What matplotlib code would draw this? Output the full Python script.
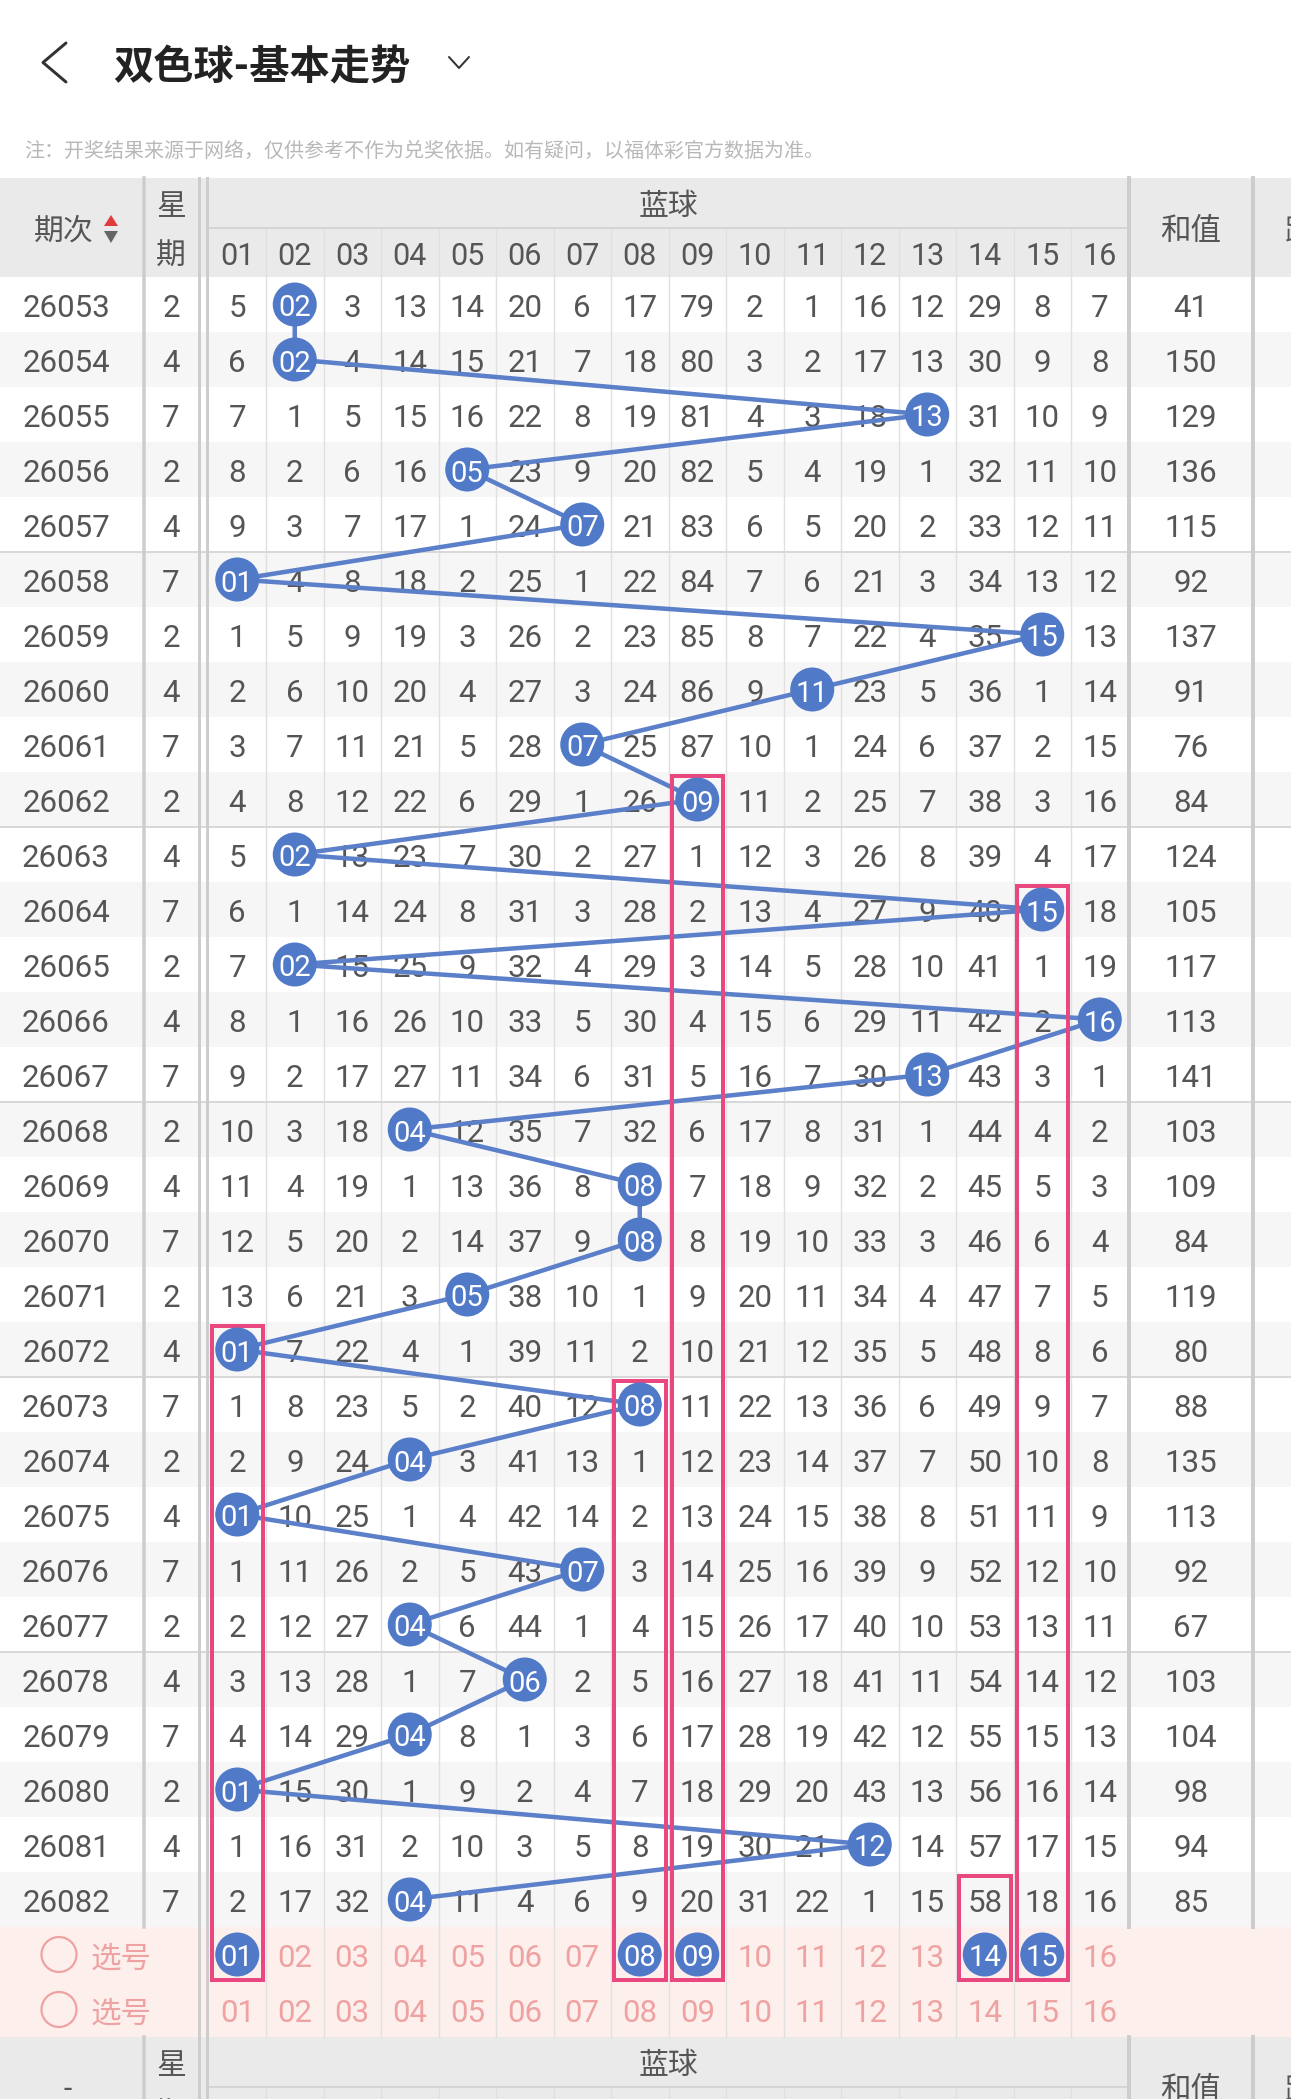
import matplotlib
matplotlib.use("Agg")
import matplotlib.pyplot as plt
from matplotlib.patches import Rectangle, Circle, Polygon

plt.rcParams['font.family'] = ['Roboto', 'Noto Sans CJK SC', 'DejaVu Sans']

# ---- data ----
issues = ['26053', '26054', '26055', '26056', '26057', '26058', '26059', '26060',
          '26061', '26062', '26063', '26064', '26065', '26066', '26067', '26068',
          '26069', '26070', '26071', '26072', '26073', '26074', '26075', '26076',
          '26077', '26078', '26079', '26080', '26081', '26082']
weekday = [2, 4, 7, 2, 4, 7, 2, 4, 7, 2, 4, 7, 2, 4, 7, 2, 4, 7, 2, 4, 7, 2, 4, 7,
           2, 4, 7, 2, 4, 7]
sums = [41, 150, 129, 136, 115, 92, 137, 91, 76, 84, 124, 105, 117, 113, 141, 103,
        109, 84, 119, 80, 88, 135, 113, 92, 67, 103, 104, 98, 94, 85]
blue_cols = ['01', '02', '03', '04', '05', '06', '07', '08', '09', '10', '11', '12',
             '13', '14', '15', '16']
# drawn blue number of each issue
hit = [2, 2, 13, 5, 7, 1, 15, 11, 7, 9, 2, 15, 2, 16, 13, 4, 8, 8, 5, 1, 8, 4, 1, 7,
       4, 6, 4, 1, 12, 4]
# omission counts (0 = the drawn ball)
miss = [
    [5, 0, 3, 13, 14, 20, 6, 17, 79, 2, 1, 16, 12, 29, 8, 7],
    [6, 0, 4, 14, 15, 21, 7, 18, 80, 3, 2, 17, 13, 30, 9, 8],
    [7, 1, 5, 15, 16, 22, 8, 19, 81, 4, 3, 18, 0, 31, 10, 9],
    [8, 2, 6, 16, 0, 23, 9, 20, 82, 5, 4, 19, 1, 32, 11, 10],
    [9, 3, 7, 17, 1, 24, 0, 21, 83, 6, 5, 20, 2, 33, 12, 11],
    [0, 4, 8, 18, 2, 25, 1, 22, 84, 7, 6, 21, 3, 34, 13, 12],
    [1, 5, 9, 19, 3, 26, 2, 23, 85, 8, 7, 22, 4, 35, 0, 13],
    [2, 6, 10, 20, 4, 27, 3, 24, 86, 9, 0, 23, 5, 36, 1, 14],
    [3, 7, 11, 21, 5, 28, 0, 25, 87, 10, 1, 24, 6, 37, 2, 15],
    [4, 8, 12, 22, 6, 29, 1, 26, 0, 11, 2, 25, 7, 38, 3, 16],
    [5, 0, 13, 23, 7, 30, 2, 27, 1, 12, 3, 26, 8, 39, 4, 17],
    [6, 1, 14, 24, 8, 31, 3, 28, 2, 13, 4, 27, 9, 40, 0, 18],
    [7, 0, 15, 25, 9, 32, 4, 29, 3, 14, 5, 28, 10, 41, 1, 19],
    [8, 1, 16, 26, 10, 33, 5, 30, 4, 15, 6, 29, 11, 42, 2, 0],
    [9, 2, 17, 27, 11, 34, 6, 31, 5, 16, 7, 30, 0, 43, 3, 1],
    [10, 3, 18, 0, 12, 35, 7, 32, 6, 17, 8, 31, 1, 44, 4, 2],
    [11, 4, 19, 1, 13, 36, 8, 0, 7, 18, 9, 32, 2, 45, 5, 3],
    [12, 5, 20, 2, 14, 37, 9, 0, 8, 19, 10, 33, 3, 46, 6, 4],
    [13, 6, 21, 3, 0, 38, 10, 1, 9, 20, 11, 34, 4, 47, 7, 5],
    [0, 7, 22, 4, 1, 39, 11, 2, 10, 21, 12, 35, 5, 48, 8, 6],
    [1, 8, 23, 5, 2, 40, 12, 0, 11, 22, 13, 36, 6, 49, 9, 7],
    [2, 9, 24, 0, 3, 41, 13, 1, 12, 23, 14, 37, 7, 50, 10, 8],
    [0, 10, 25, 1, 4, 42, 14, 2, 13, 24, 15, 38, 8, 51, 11, 9],
    [1, 11, 26, 2, 5, 43, 0, 3, 14, 25, 16, 39, 9, 52, 12, 10],
    [2, 12, 27, 0, 6, 44, 1, 4, 15, 26, 17, 40, 10, 53, 13, 11],
    [3, 13, 28, 1, 7, 0, 2, 5, 16, 27, 18, 41, 11, 54, 14, 12],
    [4, 14, 29, 0, 8, 1, 3, 6, 17, 28, 19, 42, 12, 55, 15, 13],
    [0, 15, 30, 1, 9, 2, 4, 7, 18, 29, 20, 43, 13, 56, 16, 14],
    [1, 16, 31, 2, 10, 3, 5, 8, 19, 30, 21, 0, 14, 57, 17, 15],
    [2, 17, 32, 0, 11, 4, 6, 9, 20, 31, 22, 1, 15, 58, 18, 16],
]
picked = [1, 8, 9, 14, 15]          # balls chosen in the first 选号 row
box_cols = [1, 8, 9, 14, 15]        # pink frames
box_from = [19, 20, 9, 29, 11]      # row index where each frame starts

# ---- colours / layout ----
BLUE = '#5079c8'
LINE = '#5b80c9'
PINK = '#e8477f'
PINK_TXT = '#eea2a2'
PINK_BG = '#fdefec'
HEAD_BG = '#eaeaea'
ALT_BG = '#f6f6f6'
TXT = '#555555'
DIV = '#cdcdcd'
GRID = '#e0e0e0'

W, H = 1291, 2099
PX = 0.72  # points per pixel at dpi 100
OFF = 4    # text baseline nudge (px)
FS = 22.5  # body digits
FH = 21.5  # header text

BALL_L, CW = 208.5, 57.5
SUM_L, SUM_R = 1129, 1253
HEAD_TOP, HEAD_MID, ROW0, RH = 178, 228, 277, 55
NR = len(issues)
SEL0 = ROW0 + NR * RH
SEL_END = SEL0 + 2 * RH
FOOT_MID = SEL_END + 50


def cx(n):
    return BALL_L + (n - 0.5) * CW


def cy(i):
    return ROW0 + (i + 0.5) * RH


def txt(x, y, s, **kw):
    kw.setdefault('ha', 'center')
    kw.setdefault('va', 'center')
    return ax.text(x, y + OFF, s, **kw)


fig = plt.figure(figsize=(W / 100, H / 100), dpi=100)
ax = fig.add_axes([0, 0, 1, 1])
ax.set_xlim(0, W)
ax.set_ylim(H, 0)
ax.axis('off')

# backgrounds
ax.add_patch(Rectangle((0, HEAD_TOP), W, ROW0 - HEAD_TOP, color=HEAD_BG, lw=0, zorder=0))
for i in range(NR):
    if i % 2 == 1:
        ax.add_patch(Rectangle((0, ROW0 + i * RH), W, RH, color=ALT_BG, lw=0, zorder=0))
ax.add_patch(Rectangle((0, SEL0), W, 2 * RH, color=PINK_BG, lw=0, zorder=0))
ax.add_patch(Rectangle((0, SEL_END), W, H - SEL_END, color=HEAD_BG, lw=0, zorder=0))

# grid lines
for k in range(1, 16):
    x = BALL_L + k * CW
    ax.plot([x, x], [HEAD_MID, SEL_END], color=GRID, lw=1.4 * PX, zorder=1)
    ax.plot([x, x], [FOOT_MID, H], color=GRID, lw=1.4 * PX, zorder=1)
for y in (HEAD_MID, FOOT_MID):
    ax.plot([BALL_L, SUM_L], [y, y], color='#d4d4d4', lw=2 * PX, zorder=1)
for k in range(1, 6):
    y = ROW0 + 5 * k * RH
    ax.plot([0, W], [y, y], color='#d8d8d8', lw=2 * PX, zorder=1)
for x, w in ((144, 3.5), (SUM_L, 4), (SUM_R, 4)):
    ax.plot([x, x], [HEAD_TOP, SEL0], color=DIV, lw=w * PX, zorder=1)
    ax.plot([x, x], [SEL_END, H], color=DIV, lw=w * PX, zorder=1)
for x in (198.5, 206.5):
    ax.plot([x, x], [HEAD_TOP, H], color=DIV, lw=3 * PX, zorder=1)

# title bar
ax.plot([66, 43, 66], [43, 62.5, 82], color='#333333', lw=3 * PX,
        solid_capstyle='round', solid_joinstyle='round')
txt(113, 64, '双色球-基本走势', fontsize=29, fontweight='bold', color='#222222', ha='left')
ax.plot([449, 459, 469], [57, 68, 57], color='#333333', lw=2 * PX,
        solid_capstyle='round', solid_joinstyle='round')
txt(24, 147, '注：开奖结果来源于网络，仅供参考不作为兑奖依据。如有疑问，以福体彩官方数据为准。',
    fontsize=14.4, color='#b8b8b8', ha='left')


def header(top, mid, bottom, first):
    c = (top + bottom) / 2
    txt(64 if first else 68, c, '期次' if first else '-', fontsize=FH, color=TXT)
    txt(171, (top + mid) / 2, '星', fontsize=FH, color=TXT)
    txt(171, (mid + bottom) / 2, '期', fontsize=FH, color=TXT)
    txt((BALL_L + SUM_L) / 2, (top + mid) / 2, '蓝球', fontsize=FH, color=TXT)
    for n, lab in enumerate(blue_cols, start=1):
        txt(cx(n), (mid + bottom) / 2, lab, fontsize=22, color=TXT)
    txt((SUM_L + SUM_R) / 2, c, '和值', fontsize=22, color=TXT)
    txt(1285, c, '跨度', fontsize=22, color=TXT, ha='left')


header(HEAD_TOP, HEAD_MID, ROW0, True)
header(SEL_END, FOOT_MID, SEL_END + 99, False)
ax.add_patch(Polygon([[104, 226], [118, 226], [111, 215]], color='#e23b3b', lw=0))
ax.add_patch(Polygon([[104, 231], [118, 231], [111, 243]], color='#666666', lw=0))

# table body
for i in range(NR):
    y = cy(i)
    txt(66, y, issues[i], fontsize=FS, color=TXT)
    txt(171, y, str(weekday[i]), fontsize=FS, color=TXT)
    txt((SUM_L + SUM_R) / 2, y, str(sums[i]), fontsize=FS, color=TXT)
    for n in range(1, 17):
        if n != hit[i]:
            txt(cx(n), y, str(miss[i][n - 1]), fontsize=FS, color=TXT, zorder=2)

# trend line and balls
ax.plot([cx(n) for n in hit], [cy(i) for i in range(NR)], color=LINE,
        lw=4.5 * PX, zorder=3, solid_joinstyle='round')
for i, n in enumerate(hit):
    ax.add_patch(Circle((cx(n), cy(i)), 22, color=BLUE, lw=0, zorder=5))
    txt(cx(n), cy(i), blue_cols[n - 1], fontsize=21, color='white', zorder=6)

# selection rows
for r in range(2):
    y = SEL0 + (r + 0.5) * RH
    ax.add_patch(Circle((59, y), 17.5, fill=False, ec=PINK_TXT, lw=2.2 * PX, zorder=2))
    txt(121, y, '选号', fontsize=22, color=PINK_TXT)
    for n in range(1, 17):
        if r == 0 and n in picked:
            ax.add_patch(Circle((cx(n), y), 22, color=BLUE, lw=0, zorder=5))
            txt(cx(n), y, blue_cols[n - 1], fontsize=21, color='white', zorder=6)
        else:
            txt(cx(n), y, blue_cols[n - 1], fontsize=FS, color=PINK_TXT, zorder=2)

# pink frames
for n, s in zip(box_cols, box_from):
    top = ROW0 + s * RH + 4
    ax.add_patch(Rectangle((cx(n) - CW / 2 + 3, top), CW - 6, SEL0 + RH - 2 - top,
                           fill=False, ec=PINK, lw=4 * PX, zorder=4))

fig.savefig('out.png', dpi=100)
